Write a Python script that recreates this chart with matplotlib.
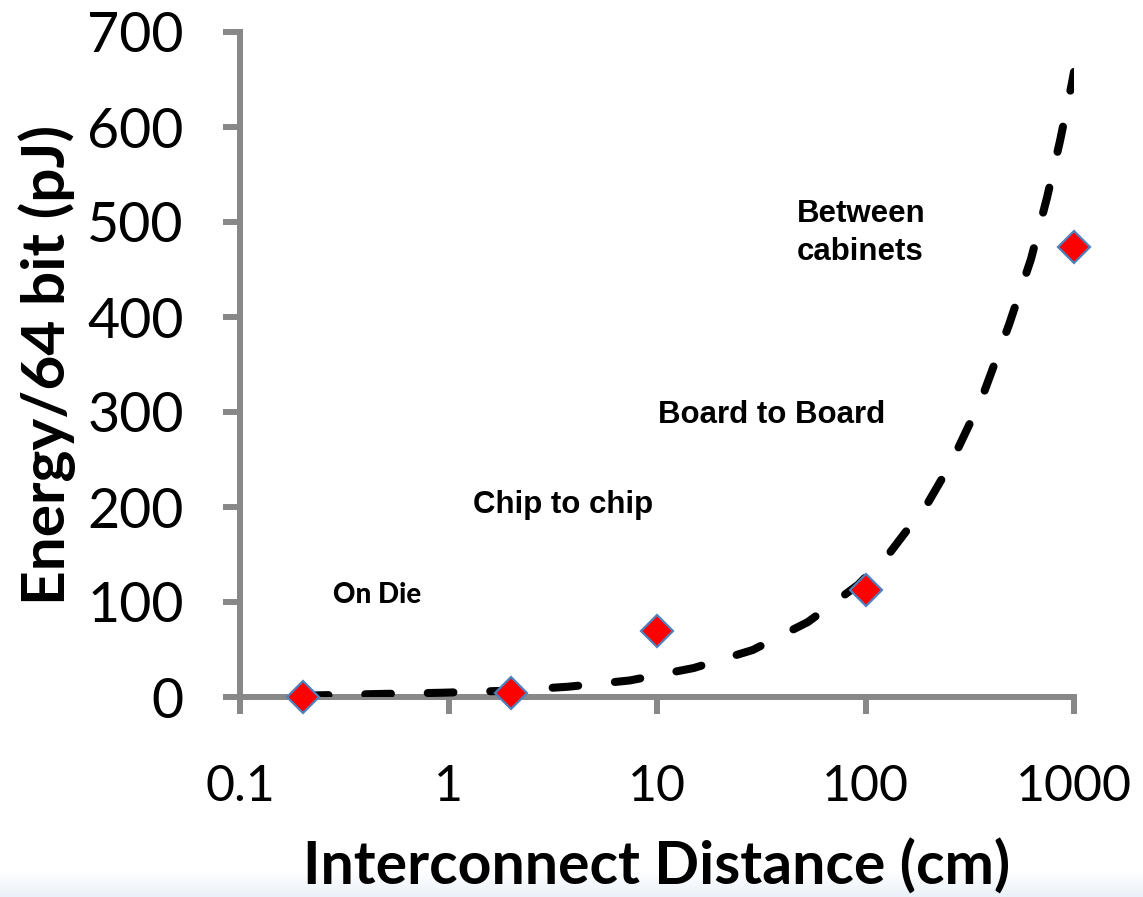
import matplotlib
matplotlib.use("Agg")
import matplotlib.pyplot as plt
import numpy as np

# ---- data ----
distance_cm = [0.2, 2, 10, 100, 1000]
energy_pj = [0, 4, 70, 113, 474]

# trend line
trend_x = [0.2, 0.47, 0.94, 1.89, 3.74, 7.4, 15.0, 28.8, 53, 92, 131, 200, 257,
           362, 488, 622, 743, 858, 977, 1000]
trend_y = [1.4, 3.2, 4.5, 6.6, 10.8, 17.4, 30.5, 49.5, 79, 118, 152, 205, 246,
           315, 392, 461, 526, 586, 646, 658]

x_ticks = [0.1, 1, 10, 100, 1000]
x_tick_labels = ["0.1", "1", "10", "100", "1000"]
y_ticks = [0, 100, 200, 300, 400, 500, 600, 700]

annotations = [
    ("On Die", 0.279, 99, "Lato", 20, 900),
    ("Chip to chip", 1.31, 194, "Liberation Sans", 22.5, "bold"),
    ("Board to Board", 10.1, 288, "Liberation Sans", 22.5, "bold"),
    ("Between", 46.9, 500, "Liberation Sans", 22.5, "bold"),
    ("cabinets", 46.9, 460, "Liberation Sans", 22.5, "bold"),
]

x_label = "Interconnect Distance (cm)"
y_label = "Energy/64 bit (pJ)"

# ---- figure ----
plt.rcParams['lines.scale_dashes'] = False
W, H = 1143, 897
fig = plt.figure(figsize=(W / 100, H / 100), dpi=100)
fig.patch.set_facecolor("white")

# faint slide gradient at the bottom
gax = fig.add_axes([0, 0, 1, 25 / H], zorder=-5)
grad = np.linspace(0, 1, 50).reshape(-1, 1)
cmap = matplotlib.colors.LinearSegmentedColormap.from_list("g", ["#EAF1F9", "#FFFFFF"])
gax.imshow(grad, aspect="auto", cmap=cmap, origin="lower", extent=[0, 1, 0, 1])
gax.axis("off")

ax = fig.add_axes([240 / W, (H - 697) / H, (1074 - 240) / W, (697 - 32) / H])
ax.set_facecolor("none")

ax.set_xscale("log")
ax.set_xlim(0.1, 1000)
ax.set_ylim(0, 700)

line, = ax.plot(trend_x, trend_y, color="black", lw=5.8, solid_capstyle="round",
                dash_capstyle="round", zorder=3)
line.set_dashes([18.5, 26.5])

ax.plot(distance_cm, energy_pj, linestyle="none", marker="D", ms=16,
        markerfacecolor="#FF0000", markeredgecolor="#4F81BD", markeredgewidth=1.6,
        zorder=4, clip_on=False)

gray = "#888888"
for side in ["top", "right"]:
    ax.spines[side].set_visible(False)
for side in ["left", "bottom"]:
    ax.spines[side].set_color(gray)
    ax.spines[side].set_linewidth(4.3)
    ax.spines[side].set_capstyle("projecting")

ax.set_xticks(x_ticks)
ax.set_xticklabels(x_tick_labels)
ax.xaxis.set_minor_locator(matplotlib.ticker.NullLocator())
ax.set_yticks(y_ticks)

ax.tick_params(axis="both", which="major", direction="out", length=12.5, width=4.3,
               color=gray)
ax.tick_params(axis="y", pad=28, labelsize=40)
ax.tick_params(axis="x", pad=36, labelsize=36)
for lab in ax.get_xticklabels() + ax.get_yticklabels():
    lab.set_fontfamily("Lato")

ax.set_xlabel(x_label, fontfamily="Lato", fontweight="bold", fontsize=42.5, labelpad=20)
ax.set_ylabel(y_label, fontfamily="Lato", fontweight="bold", fontsize=43.5, labelpad=8)

for txt, xv, yv, fam, fs, fw in annotations:
    ax.text(xv, yv, txt, fontfamily=fam, fontweight=fw, fontsize=fs,
            ha="left", va="baseline", color="black")

fig.savefig("out.png", dpi=100, facecolor="white")
